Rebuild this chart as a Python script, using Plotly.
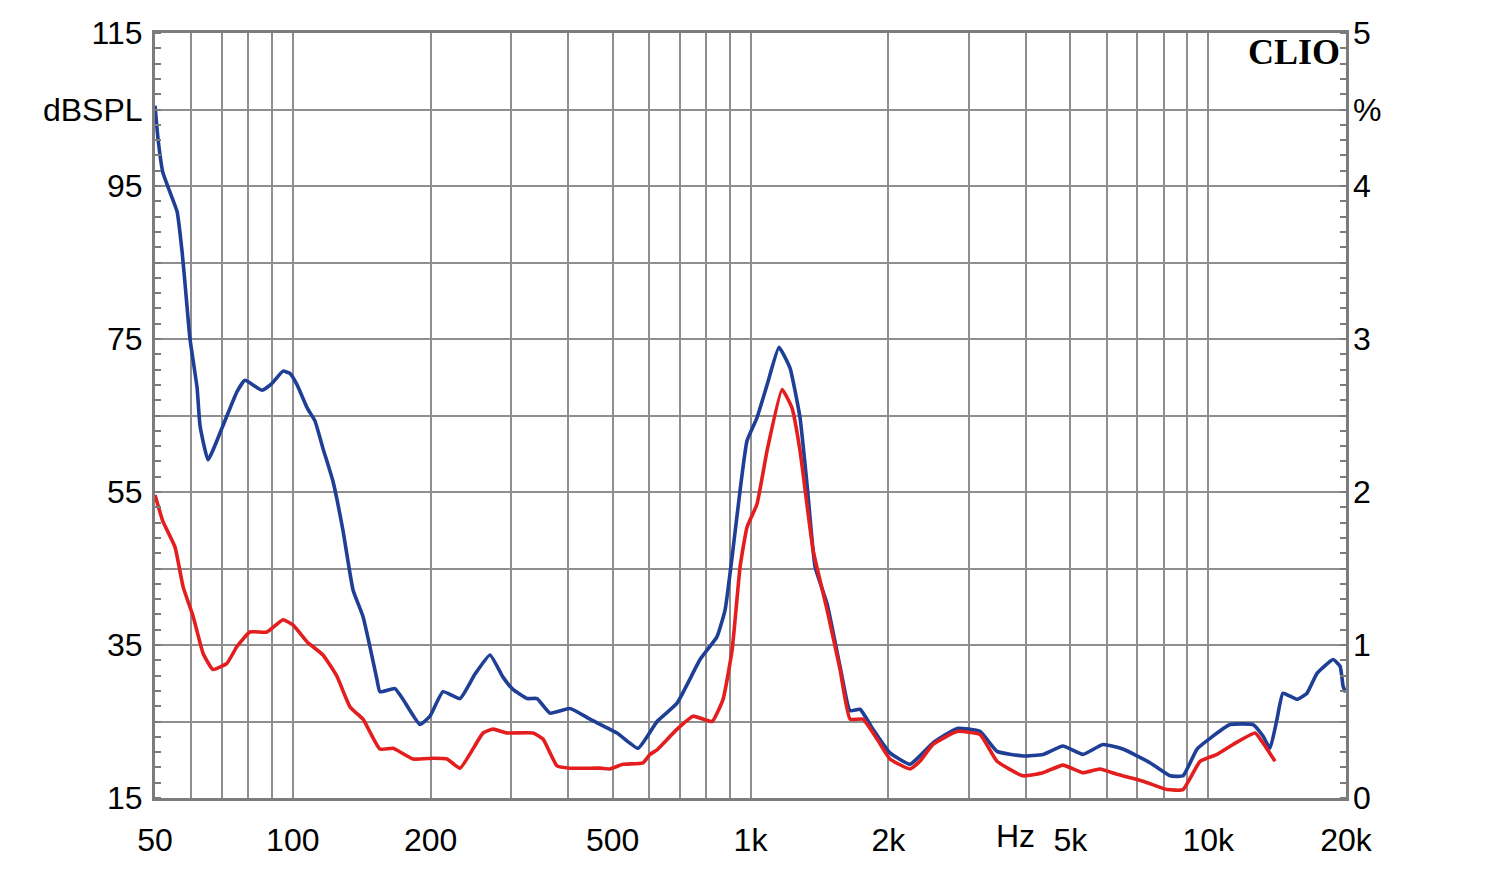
import math
import plotly.graph_objects as go

# ---- data ----
blue_freq = [50.0, 50.8, 52.0, 53.9, 55.9, 57.3, 58.2, 59.6, 61.8, 62.7, 65.3, 70.4, 75.5, 78.6, 85.7,
             90.1, 95.2, 98.6, 102.2, 107.5, 111.8, 116.4, 122.4, 128.7, 135.4, 142.4, 147.4, 152.7,
             155.0, 167.2, 174.1, 189.6, 199.4, 212.9, 232.0, 250.1, 269.7, 287.9, 302.7, 325.0,
             341.7, 364.8, 403.4, 446.1, 510.9, 567.9, 625.0, 691.1, 775.8, 845.1, 880.0, 911.5,
             948.9, 982.6, 1033, 1087, 1154, 1220, 1283, 1329, 1384, 1470, 1569, 1650, 1735, 1852,
             2017, 2231, 2345, 2505, 2827, 3173, 3456, 3940, 4355, 4815, 5324, 5887, 6510, 7462,
             8251, 8809, 9452, 10092, 11157, 12528, 13173, 13646, 14134, 14568, 15633, 16438,
             17287, 18745, 19416, 19710, 19950]
blue_db = [105.5, 101.0, 96.8, 94.2, 91.6, 86.4, 82.0, 75.1, 68.6, 63.7, 59.2, 63.7, 68.1, 69.6, 68.3,
           69.2, 70.8, 70.5, 69.0, 66.0, 64.3, 60.7, 56.4, 50.0, 42.2, 38.7, 34.8, 30.5,
           28.9, 29.3, 27.9, 24.6, 25.7, 28.9, 28.0, 31.2, 33.7, 30.8, 29.2, 28.0,
           28.0, 26.1, 26.7, 25.3, 23.5, 21.5, 25.0, 27.4, 33.1, 36.1, 39.6, 46.5,
           55.2, 61.7, 64.7, 69.0, 73.9, 71.2, 64.7, 56.0, 45.2, 40.4, 32.2, 26.4, 26.6, 24.0,
           20.9, 19.4, 20.5, 22.2, 24.1, 23.7, 21.1, 20.5, 20.7, 21.8, 20.7, 22.0, 21.4, 19.6,
           17.9, 17.9, 21.4, 22.8, 24.6, 24.6, 23.1, 21.5, 25.3, 28.7, 27.9, 28.7,
           31.3, 33.1, 32.2, 29.6, 28.8]

red_freq = [50.0, 52.0, 55.3, 57.6, 60.6, 63.7, 66.9, 71.8, 75.5, 80.6, 87.8, 95.2, 100.2, 107.5,
            116.4, 124.9, 133.4, 142.4, 155.0, 165.6, 183.1, 202.5, 217.3, 232.0, 260.4, 273.8,
            293.8, 334.9, 352.2, 377.8, 403.4, 469.1, 493.2, 526.6, 582.5, 603.2, 625.0, 691.1,
            748.9, 823.9, 871.0, 911.5, 948.9, 982.6, 1033, 1087, 1172, 1232, 1283, 1370, 1470,
            1569, 1650, 1761, 1890, 2017, 2231, 2345, 2505, 2827, 3173, 3456, 3940, 4355, 4815,
            5324, 5799, 6320, 7205, 8127, 8809, 9599, 10455, 11331, 12656, 13173, 13995]
red_db = [54.6, 51.2, 47.8, 42.6, 38.7, 33.9, 31.8, 32.6, 34.8, 36.7, 36.7, 38.3, 37.6, 35.4,
          33.7, 30.9, 26.9, 25.3, 21.4, 21.5, 20.1, 20.2, 20.1, 18.9, 23.5, 24.0,
          23.5, 23.5, 22.7, 19.2, 18.9, 18.9, 18.8, 19.4, 19.6, 20.7, 21.3, 24.0,
          25.7, 25.0, 27.9, 34.3, 45.2, 50.4, 53.4, 60.4, 68.4, 66.0, 60.4, 47.4, 39.6,
          31.8, 25.3, 25.3, 22.7, 20.1, 18.8, 19.8, 22.0, 23.7, 23.3, 19.8, 17.9, 18.3, 19.3,
          18.3, 18.8, 18.1, 17.2, 16.1, 16.1, 19.8, 20.7, 22.0, 23.5, 22.2, 19.8]

x_grid = [50, 60, 70, 80, 90, 100, 200, 300, 400, 500, 600, 700, 800, 900,
          1000, 2000, 3000, 4000, 5000, 6000, 7000, 8000, 9000, 10000, 20000]
x_labels = {50: "50", 100: "100", 200: "200", 500: "500", 1000: "1k", 2000: "2k",
            5000: "5k", 10000: "10k", 20000: "20k"}
y_grid = [15, 25, 35, 45, 55, 65, 75, 85, 95, 105, 115]
y_labels = {15: "15", 35: "35", 55: "55", 75: "75", 95: "95", 105: "dBSPL", 115: "115"}
y2_ticks = [0, 1, 2, 3, 4, 4.5, 5]
y2_labels = ["0", "1", "2", "3", "4", "%", "5"]

BLUE = "#1f3f96"
RED = "#e41e1e"
GRID = "#8e8e8e"
FRAME = "#7c7c7c"
FONT = "Liberation Sans, Arial, sans-serif"
FS = 32

fig = go.Figure()
fig.add_trace(go.Scatter(x=blue_freq, y=blue_db, mode="lines",
                         line=dict(color=BLUE, width=3.6, shape="spline", smoothing=0.4),
                         showlegend=False, hoverinfo="skip"))
fig.add_trace(go.Scatter(x=red_freq, y=red_db, mode="lines",
                         line=dict(color=RED, width=3.6, shape="spline", smoothing=0.4),
                         showlegend=False, hoverinfo="skip"))
fig.add_trace(go.Scatter(x=[1000], y=[None], yaxis="y2", mode="lines",
                         showlegend=False, hoverinfo="skip"))

L, R, T, B = 155, 154, 33, 68
W, H = 1500, 870

fig.update_layout(
    width=W, height=H,
    margin=dict(l=L, r=R, t=T, b=B),
    paper_bgcolor="white", plot_bgcolor="white",
    font=dict(family=FONT, size=FS, color="black"),
    xaxis=dict(type="log", range=[math.log10(50), math.log10(20000)],
               tickmode="array", tickvals=x_grid,
               ticktext=[x_labels.get(v, "") for v in x_grid],
               showgrid=True, gridcolor=GRID, gridwidth=1.5,
               showline=True, linecolor=FRAME, linewidth=3, mirror=True,
               ticks="", ticklabelstandoff=12, zeroline=False,
               tickfont=dict(family=FONT, size=FS, color="black")),
    yaxis=dict(range=[15, 115], tickmode="array", tickvals=y_grid,
               ticktext=[y_labels.get(v, "") for v in y_grid],
               showgrid=True, gridcolor=GRID, gridwidth=1.5,
               showline=True, linecolor=FRAME, linewidth=3, mirror=True,
               ticks="", ticklabelstandoff=3, zeroline=False,
               tickfont=dict(family=FONT, size=FS, color="black"),
               minor=dict(tickmode="linear", tick0=15, dtick=2, ticks="inside",
                          ticklen=6, tickwidth=1.5, tickcolor=FRAME, showgrid=False)),
    yaxis2=dict(range=[0, 5], overlaying="y", side="right", tickmode="array",
                tickvals=y2_ticks, ticktext=y2_labels, showgrid=False,
                ticks="", ticklabelstandoff=6, zeroline=False, showline=False,
                tickfont=dict(family=FONT, size=FS, color="black"),
                minor=dict(tickmode="linear", tick0=0, dtick=0.1, ticks="inside",
                           ticklen=6, tickwidth=1.5, tickcolor=FRAME, showgrid=False)),
)

plot_w = W - L - R
plot_h = H - T - B
fig.add_annotation(text="Hz", xref="paper", yref="paper",
                   x=(1015 - L) / plot_w, y=-(840 - (H - B)) / plot_h,
                   showarrow=False, xanchor="center", yanchor="middle",
                   font=dict(family=FONT, size=FS, color="black"))
fig.add_annotation(text="<b>CLIO</b>", xref="paper", yref="paper",
                   x=(1342 - L) / plot_w, y=1 - (52 - T) / plot_h,
                   showarrow=False, xanchor="right", yanchor="middle",
                   font=dict(family="Liberation Serif, DejaVu Serif, serif", size=36, color="black"))

fig.write_html("out.html")
